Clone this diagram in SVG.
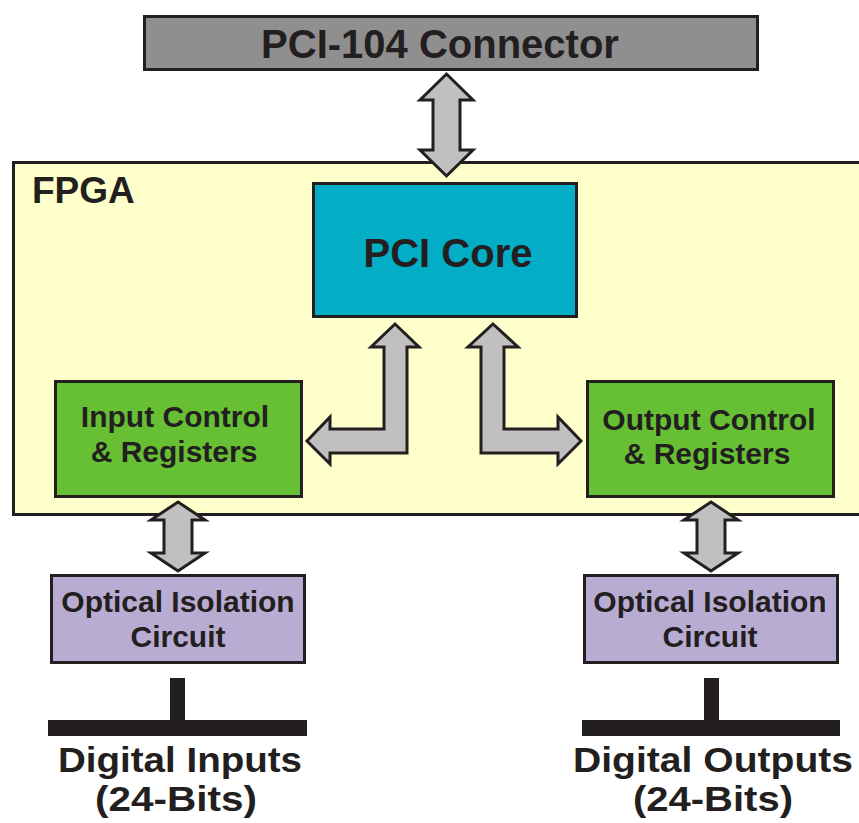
<svg xmlns="http://www.w3.org/2000/svg" width="859" height="823" viewBox="0 0 859 823">
<style>
.box{stroke:#231f20;stroke-width:3}
.lbl{font-family:"Liberation Sans",Arial,sans-serif;font-weight:bold;fill:#231f20;text-anchor:middle}
.arrow{fill:#c0c0c0;stroke:#231f20;stroke-width:3;stroke-linejoin:miter}
.bus{fill:#231f20}
</style>
<rect width="859" height="823" fill="#ffffff"/>
<g id="fpga">
<rect class="box" x="13.5" y="162.5" width="860" height="352" fill="#ffffcc"/>
<text class="lbl" x="32" y="203" font-size="37" style="text-anchor:start">FPGA</text>
</g>
<g id="pci104">
<rect class="box" x="144.5" y="16.5" width="613" height="53" fill="#8f8f8f"/>
<text class="lbl" x="440" y="58" font-size="40">PCI-104 Connector</text>
</g>
<g id="pcicore">
<rect class="box" x="313.5" y="183.5" width="263" height="133" fill="#02adc5"/>
<text class="lbl" x="448" y="267" font-size="40">PCI Core</text>
</g>
<g id="inputctrl">
<rect class="box" x="55.5" y="381.5" width="246" height="115" fill="#67c034"/>
<text class="lbl" x="175" y="427" font-size="30">Input Control</text>
<text class="lbl" x="174" y="462" font-size="30">&amp; Registers</text>
</g>
<g id="outputctrl">
<rect class="box" x="587.5" y="381.5" width="246" height="115" fill="#67c034"/>
<text class="lbl" x="709" y="430" font-size="30">Output Control</text>
<text class="lbl" x="707" y="464" font-size="30">&amp; Registers</text>
</g>
<g id="optleft">
<rect class="box" x="51.5" y="575.5" width="253" height="87" fill="#b9acd3"/>
<text class="lbl" x="178" y="612" font-size="30">Optical Isolation</text>
<text class="lbl" x="178" y="647" font-size="30">Circuit</text>
</g>
<g id="optright">
<rect class="box" x="584.5" y="575.5" width="253" height="87" fill="#b9acd3"/>
<text class="lbl" x="710" y="612" font-size="30">Optical Isolation</text>
<text class="lbl" x="710" y="647" font-size="30">Circuit</text>
</g>
<g id="digin">
<rect class="bus" x="170" y="678" width="15" height="44"/>
<rect class="bus" x="48" y="720" width="259" height="16"/>
<text class="lbl" x="180" y="772" font-size="35" textLength="244" lengthAdjust="spacingAndGlyphs">Digital Inputs</text>
<text class="lbl" x="176" y="811" font-size="35" textLength="162" lengthAdjust="spacingAndGlyphs">(24-Bits)</text>
</g>
<g id="digout">
<rect class="bus" x="704" y="678" width="15" height="44"/>
<rect class="bus" x="582" y="720" width="258" height="16"/>
<text class="lbl" x="713" y="772" font-size="35" textLength="280" lengthAdjust="spacingAndGlyphs">Digital Outputs</text>
<text class="lbl" x="713" y="811" font-size="35" textLength="160" lengthAdjust="spacingAndGlyphs">(24-Bits)</text>
</g>
<g id="connectors">
<path class="arrow" d="M446.5,74 L473,100 L460,100 L460,150 L473,150 L446.5,176 L420,150 L433,150 L433,100 L420,100 Z"/>
<path class="arrow" d="M395,324 L419,347 L407,347 L407,453 L330,453 L330,464 L307,441 L330,417 L330,429 L384,429 L384,347 L371,347 Z"/>
<path class="arrow" d="M493,324 L518,347 L504,347 L504,429 L558,429 L558,417 L581,441 L558,464 L558,453 L481,453 L481,347 L468,347 Z"/>
<path class="arrow" d="M178,502 L205,520 L192,520 L192,553 L205,553 L178,571 L151,553 L164,553 L164,520 L151,520 Z"/>
<path class="arrow" d="M711,502 L738,520 L725,520 L725,553 L738,553 L711,571 L684,553 L697,553 L697,520 L684,520 Z"/>
</g>
</svg>
